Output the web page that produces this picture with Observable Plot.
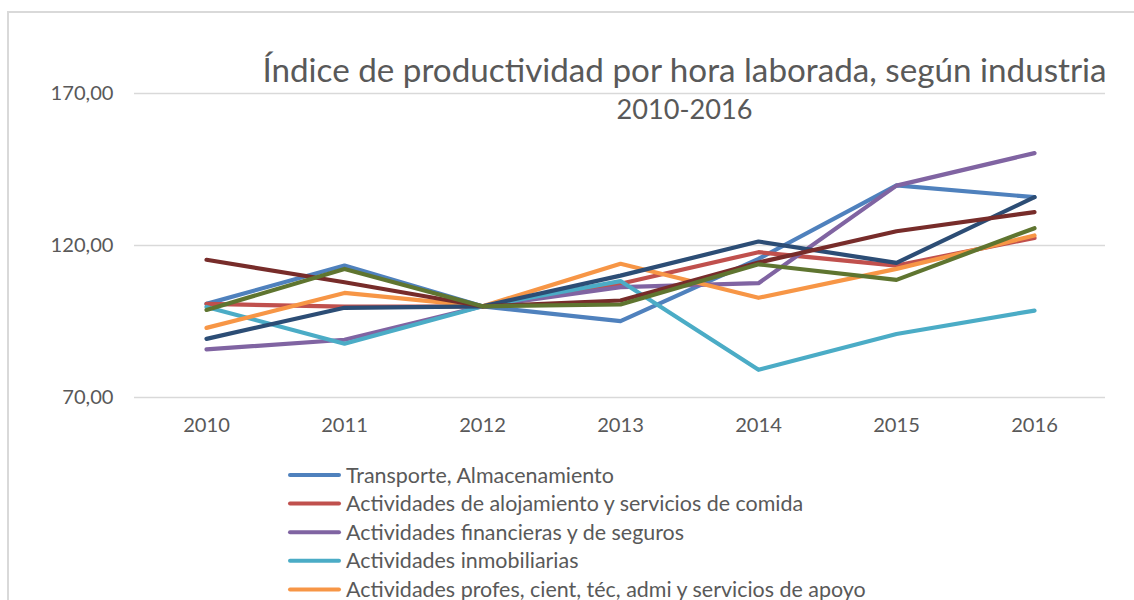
<!DOCTYPE html>
<html>
<head>
<meta charset="utf-8">
<script src="https://cdn.jsdelivr.net/npm/d3@7"></script>
<script src="https://cdn.jsdelivr.net/npm/@observablehq/plot@0.6"></script>
<style>
  html, body { margin: 0; padding: 0; background: #fff; width: 1134px; height: 600px; overflow: hidden; }
  #wrap { position: relative; width: 1134px; height: 600px; }
  #border { position: absolute; left: 7px; top: 11px; width: 1200px; height: 700px; border: 2.5px solid #d9d9d9; box-sizing: border-box; }
  #chart { position: absolute; left: 0; top: 0; }
  #overlay { position: absolute; left: 0; top: 0; }
</style>
</head>
<body>
<div id="wrap">
  <div id="border"></div>
  <div id="chart"></div>
  <svg id="overlay" width="1134" height="600"></svg>
</div>
<script>
// ---------- data ----------
const years = [2010, 2011, 2012, 2013, 2014, 2015, 2016];
const seriesNames = [
  "Transporte, Almacenamiento",
  "Actividades de alojamiento y servicios de comida",
  "Actividades financieras y de seguros",
  "Actividades inmobiliarias",
  "Actividades profes, cient, téc, admi y servicios de apoyo",
  "Serie 6",
  "Serie 7",
  "Serie 8"
];
const transporte    = [100.8, 113.4, 100, 95.1, 115.6, 139.8, 135.9];
const alojamiento   = [100.8, 99.9, 100, 107.4, 117.8, 113.4, 122.5];
const financieras   = [85.8, 89.0, 100, 106.3, 107.6, 139.7, 150.4];
const inmobiliarias = [99.8, 87.7, 100, 108.3, 79.1, 90.9, 98.6];
const profesionales = [92.9, 104.4, 100, 114.0, 102.8, 112.3, 123.3];
const serie6        = [89.3, 99.5, 100, 110.1, 121.3, 114.3, 135.9];
const serie7        = [115.3, 107.9, 100, 101.9, 114.4, 124.7, 131.0];
const serie8        = [98.8, 112.3, 100, 100.6, 113.8, 108.7, 125.7];
const seriesColors = ["#4F81BD", "#C0504D", "#8064A2", "#4BACC6", "#F79646", "#2C4D75", "#772C2A", "#5F7530"];
const yTicks = [70, 120, 170];
const titleLines = ["Índice de productividad por hora laborada, según industria", "2010-2016"];
const legendVisible = 5; // rows that fit in the 600px picture (the rest lie below it)

// ---------- build table ----------
const allValues = [transporte, alojamiento, financieras, inmobiliarias, profesionales, serie6, serie7, serie8];
const data = [];
seriesNames.forEach((name, i) => {
  years.forEach((yr, j) => data.push({series: name, year: yr, value: allValues[i][j]}));
});

const FONT = "Lato";
const TEXT = "#595959";

function fitSize(text, target) {
  const ctx = document.createElement("canvas").getContext("2d");
  ctx.font = `100px ${FONT}`;
  const w = ctx.measureText(text).width;
  return 100 * target / w;
}
const axisSize = fitSize("170,00", 63);
const legendSize = fitSize(seriesNames[4], 521);
const titleSize = fitSize(titleLines[0], 845);
const subSize = fitSize(titleLines[1], 136);

const fmt = d => d.toFixed(2).replace(".", ",");

const chart = Plot.plot({
  width: 1134,
  height: 460,
  marginLeft: 134,
  marginRight: 29,
  marginTop: 93,
  marginBottom: 63,
  style: {fontFamily: FONT, fontSize: axisSize + "px", color: TEXT, background: "transparent"},
  x: {type: "point", domain: years, padding: 0.5, align: 0.5, label: null, tickSize: 0, tickPadding: 20, tickFormat: d => String(d)},
  y: {domain: [70, 170], ticks: yTicks, label: null, tickSize: 0, tickPadding: 21, tickFormat: fmt},
  color: {domain: seriesNames, range: seriesColors},
  marks: [
    Plot.ruleY(yTicks, {stroke: "#d9d9d9", strokeWidth: 1.5}),
    Plot.lineY(data, {x: "year", y: "value", z: "series", stroke: "series", strokeWidth: 4.2, strokeLinecap: "round", strokeLinejoin: "round"})
  ]
});
document.getElementById("chart").appendChild(chart);

// ---------- title & legend (overlay) ----------
const ov = d3.select("#overlay");
ov.selectAll("text.title").data(titleLines).join("text")
  .attr("class", "title")
  .attr("x", 684.5)
  .attr("y", (d, i) => i === 0 ? 82 : 119)
  .attr("text-anchor", "middle")
  .attr("font-family", FONT)
  .attr("font-size", (d, i) => i === 0 ? titleSize : subSize)
  .attr("fill", TEXT)
  .text(d => d);

const legendItems = seriesNames.slice(0, legendVisible).map((n, i) => ({name: n, color: seriesColors[i], i}));
const lg = ov.selectAll("g.leg").data(legendItems).join("g")
  .attr("class", "leg")
  .attr("transform", d => `translate(0, ${475 + d.i * 28.6})`);
lg.append("line")
  .attr("x1", 290).attr("x2", 339).attr("y1", 0).attr("y2", 0)
  .attr("stroke", d => d.color).attr("stroke-width", 4).attr("stroke-linecap", "round");
lg.append("text")
  .attr("x", 346).attr("y", 0).attr("dy", "0.35em")
  .attr("font-family", FONT).attr("font-size", legendSize)
  .attr("fill", TEXT)
  .text(d => d.name);
</script>
</body>
</html>
